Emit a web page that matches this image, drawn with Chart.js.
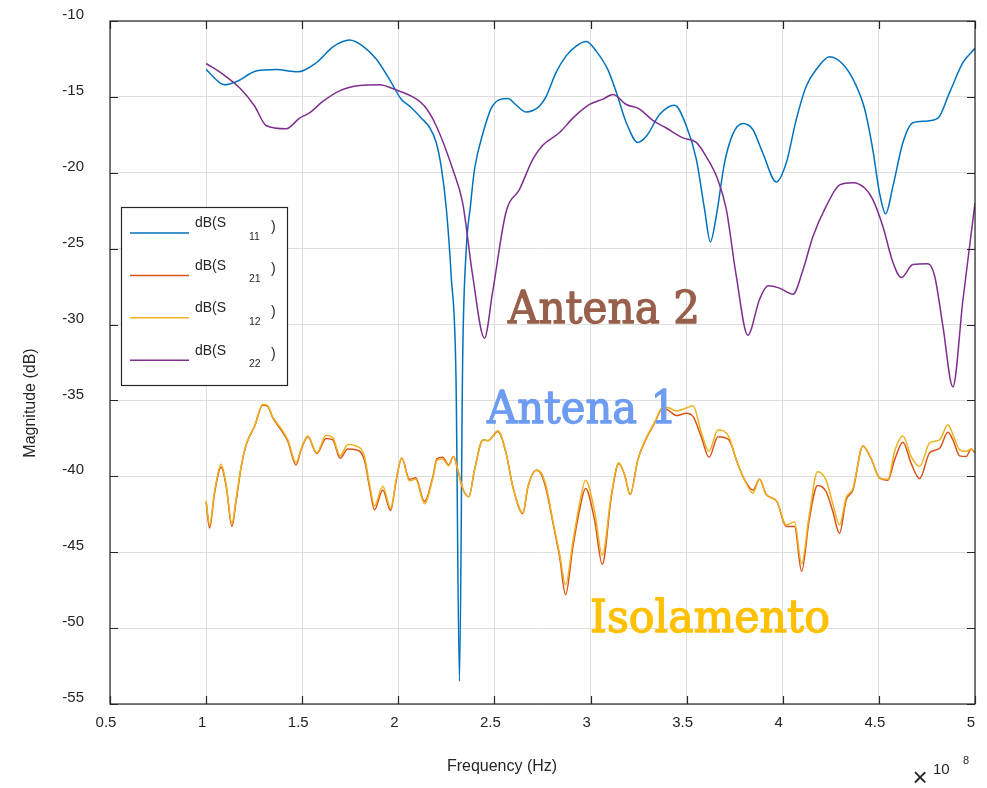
<!DOCTYPE html>
<html>
<head>
<meta charset="utf-8">
<script src="https://cdn.jsdelivr.net/npm/chart.js@4.4.1/dist/chart.umd.min.js"></script>
<style>
  html, body { margin: 0; padding: 0; background: #fff; }
  #sparams { display: block; }
</style>
</head>
<body>
<canvas id="sparams" width="987" height="788"></canvas>
<script>
// S-parameter magnitudes, frequency in units of 1e8 Hz
const freqS11 = [1.0, 1.096, 1.157, 1.26, 1.365, 1.477, 1.573, 1.66, 1.746, 1.815,
  1.885, 1.954, 2.015, 2.067, 2.12, 2.162, 2.197, 2.223, 2.25, 2.275,
  2.3, 2.318, 2.335, 2.353, 2.375, 2.396, 2.44, 2.49, 2.57, 2.61,
  2.665, 2.7, 2.735, 2.77, 2.82, 2.873, 2.925, 2.978, 3.03, 3.09,
  3.134, 3.186, 3.246, 3.29, 3.36, 3.437, 3.498, 3.55, 3.593, 3.623,
  3.654, 3.697, 3.74, 3.792, 3.844, 3.896, 3.966, 4.018, 4.07, 4.122,
  4.174, 4.243, 4.313, 4.374, 4.426, 4.468, 4.503, 4.535, 4.573, 4.625,
  4.677, 4.738, 4.807, 4.868, 4.937, 5.0];
const dbS11 = [-13.2, -14.2, -14.0, -13.3, -13.2, -13.35, -12.75, -11.7, -11.25, -11.65,
  -12.5, -13.85, -15.15, -15.7, -16.4, -17.0, -18.0, -19.6, -22.4, -26.8,
  -33.5, -53.5, -32.0, -25.1, -22.2, -19.8, -17.4, -15.6, -15.1, -15.5,
  -16.0, -15.9, -15.6, -14.95, -13.4, -12.3, -11.65, -11.35, -12.0, -13.2,
  -14.7, -16.7, -18.0, -17.6, -16.15, -15.55, -16.9, -19.1, -22.4, -24.55,
  -22.85, -19.35, -17.45, -16.75, -17.15, -18.7, -20.6, -19.35, -16.5, -14.3,
  -13.2, -12.35, -12.85, -14.05, -15.8, -18.45, -21.3, -22.7, -20.9, -18.0,
  -16.7, -16.6, -16.4, -14.7, -12.75, -11.8];

const freqS22 = [1.0, 1.087, 1.174, 1.252, 1.313, 1.417, 1.486, 1.538, 1.607, 1.694,
  1.798, 1.902, 1.99, 2.075, 2.136, 2.197, 2.284, 2.335, 2.387, 2.448,
  2.49, 2.56, 2.63, 2.7, 2.75, 2.839, 2.908, 2.995, 3.064, 3.116,
  3.186, 3.255, 3.324, 3.394, 3.48, 3.55, 3.6, 3.662, 3.706, 3.758,
  3.818, 3.879, 3.923, 3.983, 4.053, 4.105, 4.157, 4.226, 4.296, 4.365,
  4.426, 4.468, 4.52, 4.573, 4.617, 4.677, 4.755, 4.79, 4.833, 4.885,
  4.937, 5.0];
const dbS22 = [-12.8, -13.5, -14.4, -15.6, -16.9, -17.1, -16.4, -16.05, -15.3, -14.6,
  -14.25, -14.2, -14.55, -15.0, -15.6, -16.9, -19.8, -22.0, -26.8, -30.9,
  -27.9, -22.6, -21.1, -19.1, -18.2, -17.35, -16.4, -15.5, -15.15, -14.85,
  -15.5, -15.8, -16.55, -17.05, -17.7, -18.0, -18.9, -20.45, -22.4, -26.8,
  -30.7, -28.35, -27.45, -27.6, -28.0, -26.4, -24.2, -22.2, -20.8, -20.65,
  -21.0, -21.75, -23.5, -25.9, -26.9, -26.05, -26.0, -26.8, -30.1, -34.1,
  -28.4, -22.0];

const freqIso = [1.0, 1.018, 1.044, 1.078, 1.105, 1.134, 1.157, 1.183, 1.209, 1.252,
  1.295, 1.321, 1.347, 1.39, 1.425, 1.468, 1.494, 1.529, 1.576, 1.624,
  1.659, 1.697, 1.737, 1.78, 1.823, 1.85, 1.876, 1.919, 1.96, 1.989,
  2.018, 2.058, 2.09, 2.136, 2.18, 2.2, 2.23, 2.262, 2.287, 2.31,
  2.335, 2.367, 2.396, 2.44, 2.466, 2.518, 2.561, 2.596, 2.648, 2.674,
  2.718, 2.745, 2.77, 2.805, 2.839, 2.87, 2.908, 2.943, 2.974, 3.021,
  3.061, 3.108, 3.147, 3.177, 3.206, 3.246, 3.29, 3.333, 3.376, 3.411,
  3.446, 3.498, 3.533, 3.576, 3.616, 3.663, 3.72, 3.758, 3.796, 3.845,
  3.879, 3.914, 3.969, 4.018, 4.061, 4.098, 4.137, 4.181, 4.225, 4.26,
  4.295, 4.33, 4.365, 4.417, 4.46, 4.503, 4.547, 4.582, 4.625, 4.668,
  4.712, 4.764, 4.816, 4.859, 4.885, 4.92, 4.954, 4.98, 5.0];
const dbS21 = [-41.7, -43.4, -41.1, -39.4, -40.7, -43.3, -41.55, -39.35, -37.9, -36.7,
  -35.3, -35.4, -36.15, -36.95, -37.7, -39.25, -38.25, -37.4, -38.5, -37.5,
  -37.6, -38.8, -38.2, -38.25, -38.9, -40.7, -42.2, -40.9, -42.25, -40.25,
  -38.8, -40.2, -40.1, -41.65, -40.0, -38.85, -38.75, -39.25, -38.7, -39.6,
  -40.8, -41.35, -39.6, -37.6, -37.65, -37.05, -38.5, -40.7, -42.45, -40.7,
  -39.6, -39.9, -40.9, -43.1, -45.3, -47.8, -44.65, -42.2, -40.8, -42.9,
  -45.8, -41.35, -39.15, -39.9, -41.2, -38.9, -37.5, -36.5, -35.5, -35.7,
  -36.0, -35.85, -36.05, -37.4, -38.75, -37.4, -37.6, -38.9, -40.1, -40.9,
  -40.2, -41.2, -41.65, -43.3, -43.3, -46.25, -42.9, -40.6, -41.0, -42.3,
  -43.75, -41.55, -40.9, -38.0, -38.85, -40.1, -40.25, -38.9, -37.75, -39.15,
  -40.15, -38.45, -38.15, -37.1, -37.6, -38.65, -38.7, -38.2, -38.45];
const dbS12 = [-41.6, -43.2, -41.0, -39.2, -40.6, -43.1, -41.4, -39.3, -37.9, -36.7,
  -35.25, -35.35, -36.1, -36.85, -37.6, -39.1, -38.2, -37.35, -38.45, -37.3,
  -37.45, -38.65, -37.9, -38.0, -38.65, -40.5, -41.95, -40.65, -42.1, -40.2,
  -38.8, -40.3, -40.2, -41.8, -40.1, -38.95, -38.85, -39.3, -38.7, -39.6,
  -40.8, -41.35, -39.6, -37.6, -37.65, -37.0, -38.5, -40.7, -42.4, -40.7,
  -39.6, -39.8, -40.7, -43.0, -45.1, -47.15, -44.3, -41.8, -40.25, -42.3,
  -45.2, -41.2, -39.1, -39.9, -41.2, -38.9, -37.45, -36.45, -35.45, -35.5,
  -35.7, -35.5, -35.35, -37.1, -38.35, -36.95, -37.4, -38.9, -40.1, -41.1,
  -40.2, -41.2, -41.65, -43.2, -43.0, -45.75, -42.6, -39.7, -40.25, -41.8,
  -43.2, -41.4, -40.8, -38.0, -38.85, -40.1, -40.2, -38.35, -37.35, -38.7,
  -39.35, -37.8, -37.6, -36.6, -37.25, -38.25, -38.35, -38.2, -38.4];

const xTickLabels = ['0.5', '1', '1.5', '2', '2.5', '3', '3.5', '4', '4.5', '5'];
const yTickLabels = ['-55', '-50', '-45', '-40', '-35', '-30', '-25', '-20', '-15', '-10'];
const seriesNames = ['dB(S11)', 'dB(S21)', 'dB(S12)', 'dB(S22)'];

const TEXT = '#262626';
const FONT = '"Liberation Sans", Arial, sans-serif';

function pts(xs, ys) {
  return xs.map((x, i) => ({ x: x, y: ys[i] }));
}

function line(label, color, data, order) {
  return {
    label: label,
    data: data,
    borderColor: color,
    backgroundColor: color,
    borderWidth: 1.5,
    pointRadius: 0,
    tension: 0.4,
    cubicInterpolationMode: 'monotone',
    order: order
  };
}

// fit a text into a box: left/right edges, baseline, cap height
function fitText(ctx, text, left, right, baseline, capH, color) {
  const size = capH / 0.73;
  ctx.save();
  ctx.font = size + 'px "DejaVu Serif", serif';
  ctx.fillStyle = color;
  ctx.strokeStyle = color;
  ctx.lineWidth = 1.3;
  ctx.lineJoin = 'round';
  ctx.textAlign = 'left';
  ctx.textBaseline = 'alphabetic';
  const w = ctx.measureText(text).width;
  ctx.translate(left, baseline);
  ctx.scale((right - left) / w, 1);
  ctx.fillText(text, 0, 0);
  ctx.strokeText(text, 0, 0);
  ctx.restore();
}

const decorPlugin = {
  id: 'decor',
  afterDatasetsDraw(chart) {
    const ctx = chart.ctx;
    const a = chart.chartArea;
    const xs = chart.scales.x, ys = chart.scales.y;

    ctx.save();
    // box + inward ticks
    ctx.strokeStyle = TEXT;
    ctx.lineWidth = 1.2;
    ctx.strokeRect(a.left, a.top, a.right - a.left, a.bottom - a.top);
    ctx.beginPath();
    xs.ticks.forEach(t => {
      const px = Math.round(xs.getPixelForValue(t.value)) + 0.5;
      ctx.moveTo(px, a.bottom); ctx.lineTo(px, a.bottom - 8);
      ctx.moveTo(px, a.top); ctx.lineTo(px, a.top + 8);
    });
    ys.ticks.forEach(t => {
      const py = Math.round(ys.getPixelForValue(t.value)) + 0.5;
      ctx.moveTo(a.left, py); ctx.lineTo(a.left + 8, py);
      ctx.moveTo(a.right, py); ctx.lineTo(a.right - 8, py);
    });
    ctx.stroke();

    // axis titles
    ctx.fillStyle = TEXT;
    ctx.font = '16px ' + FONT;
    ctx.textAlign = 'center';
    ctx.textBaseline = 'middle';
    ctx.fillText('Frequency (Hz)', 502, 767);
    ctx.save();
    ctx.translate(31, 403);
    ctx.rotate(-Math.PI / 2);
    ctx.fillText('Magnitude (dB)', 0, 0);
    ctx.restore();

    // exponent
    ctx.font = '26px ' + FONT;
    ctx.fillText('\u00d7', 920, 779);
    ctx.font = '15px ' + FONT;
    ctx.textAlign = 'left';
    ctx.fillText('10', 933, 770);
    ctx.font = '11px ' + FONT;
    ctx.fillText('8', 963, 761);

    // legend box
    const lx = 121.5, ly = 207.5, lw = 166, lh = 178;
    ctx.fillStyle = '#fff';
    ctx.fillRect(lx, ly, lw, lh);
    ctx.strokeStyle = TEXT;
    ctx.lineWidth = 1.2;
    ctx.strokeRect(lx, ly, lw, lh);
    chart.data.datasets.forEach((ds, i) => {
      const y = 233 + i * 42.4;
      ctx.strokeStyle = ds.borderColor;
      ctx.lineWidth = 1.5;
      ctx.beginPath();
      ctx.moveTo(130, y); ctx.lineTo(189, y);
      ctx.stroke();
      const sub = ds.label.slice(4, 6);
      ctx.fillStyle = TEXT;
      ctx.textAlign = 'left';
      ctx.textBaseline = 'middle';
      ctx.font = '14px ' + FONT;
      ctx.fillText(ds.label.slice(0, 4), 195, y - 9.5);
      ctx.fillText(')', 271, y - 6);
      ctx.font = '10.5px ' + FONT;
      ctx.fillText(sub, 249, y + 4);
    });
    ctx.restore();

    // annotations
    fitText(ctx, 'Antena 2', 508, 700, 323, 33, '#98604b');
    fitText(ctx, 'Antena 1', 487, 677, 423, 33, '#6d9cf2');
    fitText(ctx, 'Isolamento', 590, 830, 632, 32, '#ffc000');
  }
};

new Chart(document.getElementById('sparams').getContext('2d'), {
  type: 'line',
  data: {
    datasets: [
      line(seriesNames[0], '#0072BD', pts(freqS11, dbS11), 3),
      line(seriesNames[1], '#D95319', pts(freqIso, dbS21), 2),
      line(seriesNames[2], '#EDB120', pts(freqIso, dbS12), 1),
      line(seriesNames[3], '#7E2F8E', pts(freqS22, dbS22), 0)
    ]
  },
  options: {
    responsive: false,
    animation: false,
    events: [],
    layout: {
      padding: { left: 0, right: 12, top: 21, bottom: 0 }
    },
    scales: {
      x: {
        type: 'linear',
        min: 0.5,
        max: 5,
        afterFit: s => { s.height = 84; s.paddingLeft = 0; s.paddingRight = 0; },
        ticks: {
          stepSize: 0.5,
          autoSkip: false,
          maxRotation: 0,
          padding: 10,
          labelOffset: -4,
          color: TEXT,
          font: { family: FONT, size: 15 },
          callback: (v, i) => xTickLabels[i]
        },
        grid: { color: '#dfdfdf', drawTicks: false },
        border: { display: false }
      },
      y: {
        min: -55,
        max: -10,
        afterFit: s => { s.width = 110; s.paddingTop = 0; s.paddingBottom = 0; },
        ticks: {
          stepSize: 5,
          autoSkip: false,
          padding: 26,
          labelOffset: -6,
          color: TEXT,
          font: { family: FONT, size: 15 },
          callback: (v, i) => yTickLabels[i]
        },
        grid: { color: '#dfdfdf', drawTicks: false },
        border: { display: false }
      }
    },
    plugins: {
      legend: { display: false },
      tooltip: { enabled: false }
    }
  },
  plugins: [decorPlugin]
});
</script>
</body>
</html>
